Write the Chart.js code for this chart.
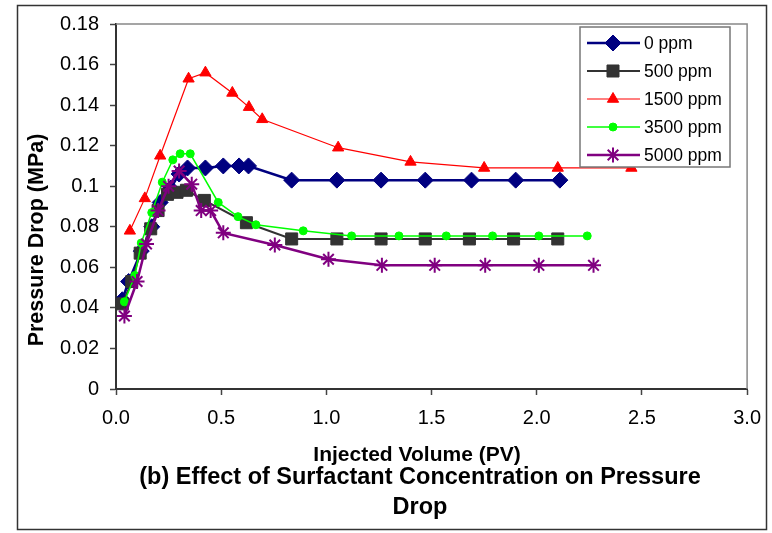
<!DOCTYPE html>
<html>
<head>
<meta charset="utf-8">
<script src="https://cdn.jsdelivr.net/npm/chart.js@4.4.1/dist/chart.umd.min.js"></script>
<style>
  html, body { margin: 0; padding: 0; background: #fff; }
  #wrap { width: 772px; height: 533px; }
</style>
</head>
<body>
<div id="wrap"><canvas id="myChart" width="772" height="533"></canvas></div>
<script>
// injected volume (PV) and pressure drop (MPa) per surfactant concentration
var pv0 = [0.03, 0.06, 0.12, 0.17, 0.21, 0.26, 0.30, 0.34, 0.425, 0.51, 0.585, 0.63, 0.835, 1.05, 1.26, 1.47, 1.69, 1.90, 2.11];
var dp0 = [0.044, 0.053, 0.068, 0.080, 0.092, 0.099, 0.106, 0.109, 0.109, 0.110, 0.110, 0.110, 0.103, 0.103, 0.103, 0.103, 0.103, 0.103, 0.103];

var pv500 = [0.03, 0.075, 0.115, 0.165, 0.2, 0.245, 0.29, 0.335, 0.42, 0.62, 0.835, 1.05, 1.26, 1.47, 1.68, 1.89, 2.10];
var dp500 = [0.042, 0.053, 0.067, 0.079, 0.088, 0.096, 0.097, 0.098, 0.093, 0.082, 0.074, 0.074, 0.074, 0.074, 0.074, 0.074, 0.074];

var pv1500 = [0.066, 0.137, 0.21, 0.345, 0.425, 0.553, 0.632, 0.695, 1.056, 1.40, 1.75, 2.10, 2.45];
var dp1500 = [0.078, 0.094, 0.115, 0.153, 0.156, 0.146, 0.139, 0.133, 0.119, 0.112, 0.109, 0.109, 0.109];

var pv3500 = [0.04, 0.09, 0.12, 0.17, 0.22, 0.27, 0.305, 0.353, 0.486, 0.58, 0.665, 0.89, 1.12, 1.345, 1.57, 1.79, 2.01, 2.24];
var dp3500 = [0.043, 0.056, 0.072, 0.087, 0.102, 0.113, 0.116, 0.116, 0.092, 0.085, 0.081, 0.078, 0.0755, 0.0755, 0.0755, 0.0755, 0.0755, 0.0755];

var pv5000 = [0.04, 0.1, 0.145, 0.2, 0.25, 0.3, 0.36, 0.405, 0.45, 0.51, 0.755, 1.01, 1.264, 1.515, 1.755, 2.01, 2.27];
var dp5000 = [0.036, 0.053, 0.0715, 0.088, 0.1, 0.1075, 0.101, 0.088, 0.088, 0.077, 0.071, 0.064, 0.061, 0.061, 0.061, 0.061, 0.061];

var seriesNames = ["0 ppm", "500 ppm", "1500 ppm", "3500 ppm", "5000 ppm"];
var xTicks = [0, 0.5, 1.0, 1.5, 2.0, 2.5, 3.0];
var yTicks = [0, 0.02, 0.04, 0.06, 0.08, 0.1, 0.12, 0.14, 0.16, 0.18];
var xTitle = "Injected Volume (PV)";
var yTitle = "Pressure Drop (MPa)";
var chartTitle = ["(b) Effect of Surfactant Concentration on Pressure", "Drop"];

var FONT = "'Liberation Sans', Arial, sans-serif";

function pts(xs, ys) {
    let out = [];
    for (let i = 0; i < xs.length; i++) out.push({ x: xs[i], y: ys[i] });
    return out;
}

// outer frame + plot area border (top/right grey)
const framePlugin = {
    id: "frame",
    beforeDraw(chart) {
        const ctx = chart.ctx;
        ctx.save();
        ctx.fillStyle = "#fff";
        ctx.fillRect(0, 0, chart.width, chart.height);
        ctx.strokeStyle = "#333";
        ctx.lineWidth = 1.5;
        ctx.strokeRect(17.5, 5.5, 749, 524);
        ctx.restore();
    },
    beforeDatasetsDraw(chart) {
        const a = chart.chartArea;
        const ctx = chart.ctx;
        ctx.save();
        ctx.strokeStyle = "#888";
        ctx.lineWidth = 1.5;
        ctx.beginPath();
        ctx.moveTo(a.left, a.top);
        ctx.lineTo(a.right, a.top);
        ctx.lineTo(a.right, a.bottom);
        ctx.stroke();
        ctx.restore();
    }
};

// axis titles and caption (Excel places them off the plot centre)
const captions = {
    id: "captions",
    afterDraw(chart) {
        const ctx = chart.ctx;
        ctx.save();
        ctx.fillStyle = "#000";
        ctx.textAlign = "center";
        ctx.textBaseline = "middle";
        ctx.font = "bold 21px " + FONT;
        ctx.fillText(xTitle, 417, 455);
        ctx.font = "bold 23.5px " + FONT;
        ctx.fillText(chartTitle[0], 420, 478);
        ctx.fillText(chartTitle[1], 420, 508);
        ctx.translate(37, 240);
        ctx.rotate(-Math.PI / 2);
        ctx.font = "bold 21.5px " + FONT;
        ctx.fillText(yTitle, 0, 0);
        ctx.restore();
    }
};

// Excel-style legend box in the upper right
const legendBox = {
    id: "legendBox",
    afterDraw(chart) {
        const ctx = chart.ctx;
        ctx.save();
        ctx.fillStyle = "#fff";
        ctx.fillRect(580, 27, 150, 140);
        ctx.strokeStyle = "#777";
        ctx.lineWidth = 1.5;
        ctx.strokeRect(580, 27, 150, 140);
        ctx.font = "17.5px " + FONT;
        ctx.textBaseline = "middle";
        chart.data.datasets.forEach(function (ds, i) {
            let y = 43 + i * 28;
            ctx.strokeStyle = ds.borderColor;
            ctx.lineWidth = ds.borderWidth;
            ctx.beginPath();
            ctx.moveTo(587, y);
            ctx.lineTo(640, y);
            ctx.stroke();
            ctx.fillStyle = ds.pointBackgroundColor;
            ctx.strokeStyle = ds.pointBorderColor;
            ctx.lineWidth = ds.pointBorderWidth;
            Chart.helpers.drawPoint(ctx, {
                pointStyle: ds.pointStyle,
                radius: ds.pointRadius,
                borderWidth: ds.pointBorderWidth,
                rotation: 0
            }, 613, y);
            ctx.fillStyle = "#000";
            ctx.fillText(ds.label, 644, y + 1);
        });
        ctx.restore();
    }
};

function graph() {
    new Chart("myChart", {
        type: "scatter",
        data: {
            datasets: [
                {
                    label: seriesNames[0], data: pts(pv0, dp0), showLine: true, order: 4,
                    borderColor: "#000080", borderWidth: 2.5,
                    pointStyle: "rectRot", pointRadius: 8, pointBorderWidth: 1,
                    pointBackgroundColor: "#000080", pointBorderColor: "#000080"
                },
                {
                    label: seriesNames[1], data: pts(pv500, dp500), showLine: true, order: 3,
                    borderColor: "#333333", borderWidth: 2,
                    pointStyle: "rect", pointRadius: 8.5, pointBorderWidth: 1,
                    pointBackgroundColor: "#333333", pointBorderColor: "#333333"
                },
                {
                    label: seriesNames[2], data: pts(pv1500, dp1500), showLine: true, order: 2,
                    borderColor: "#ff0000", borderWidth: 1.2,
                    pointStyle: "triangle", pointRadius: 6.5, pointBorderWidth: 1,
                    pointBackgroundColor: "#ff0000", pointBorderColor: "#ff0000"
                },
                {
                    label: seriesNames[3], data: pts(pv3500, dp3500), showLine: true, order: 1,
                    borderColor: "#00ff00", borderWidth: 1.5,
                    pointStyle: "circle", pointRadius: 4, pointBorderWidth: 1,
                    pointBackgroundColor: "#00ff00", pointBorderColor: "#00ff00"
                },
                {
                    label: seriesNames[4], data: pts(pv5000, dp5000), showLine: true, order: 0,
                    borderColor: "#800080", borderWidth: 2.5,
                    pointStyle: "star", pointRadius: 7.5, pointBorderWidth: 2,
                    pointBackgroundColor: "#800080", pointBorderColor: "#800080"
                }
            ]
        },
        options: {
            responsive: false,
            animation: false,
            layout: { padding: { left: 0, top: 24, right: 22, bottom: 0 } },
            plugins: {
                legend: { display: false },
                tooltip: { enabled: false },
                title: { display: false }
            },
            scales: {
                x: {
                    type: "linear", min: 0, max: 3,
                    afterBuildTicks(scale) { scale.ticks = xTicks.map(v => ({ value: v })); },
                    afterFit(scale) { scale.height = 144; },
                    grid: { drawOnChartArea: false, drawTicks: true, tickLength: 6, color: "#444", tickWidth: 1.5 },
                    border: { display: true, color: "#333", width: 2 },
                    ticks: {
                        color: "#000", padding: 11,
                        font: { family: FONT, size: 20 },
                        callback: v => v.toFixed(1)
                    },
                    title: { display: false }
                },
                y: {
                    type: "linear", min: 0, max: 0.18,
                    afterBuildTicks(scale) { scale.ticks = yTicks.map(v => ({ value: v })); },
                    afterFit(scale) { scale.width = 116; },
                    grid: { drawOnChartArea: false, drawTicks: true, tickLength: 6, color: "#444", tickWidth: 1.5 },
                    border: { display: true, color: "#333", width: 2 },
                    ticks: {
                        color: "#000", padding: 11,
                        font: { family: FONT, size: 20 },
                        callback: v => String(Number(v.toFixed(2)))
                    },
                    title: { display: false }
                }
            }
        },
        plugins: [framePlugin, captions, legendBox]
    });
}
document.addEventListener("DOMContentLoaded", () => {
    graph();
});
</script>
</body>
</html>
